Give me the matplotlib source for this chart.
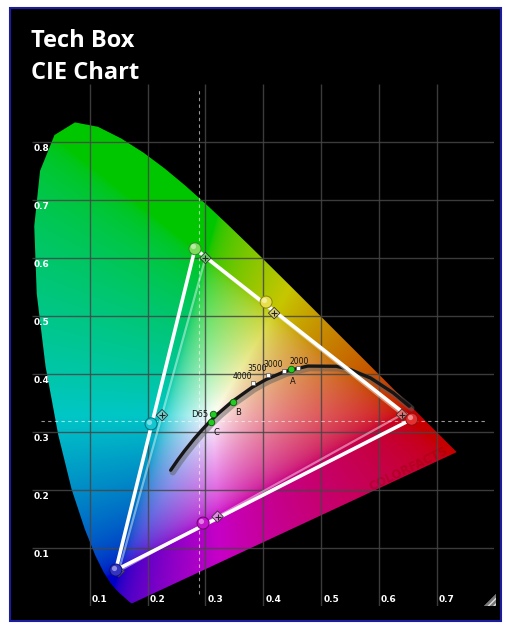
import numpy as np
import matplotlib
matplotlib.use("Agg")
import matplotlib.pyplot as plt
import matplotlib.patheffects as pe
from matplotlib.path import Path
from matplotlib.patches import PathPatch, Rectangle, Polygon

# CIE 1931 spectral locus, 380-700 nm in 5 nm steps
locus_x = [0.1741, 0.1740, 0.1738, 0.1736, 0.1733, 0.1730, 0.1726, 0.1721, 0.1714, 0.1703,
           0.1689, 0.1669, 0.1644, 0.1611, 0.1566, 0.1510, 0.1440, 0.1355, 0.1241, 0.1096,
           0.0913, 0.0687, 0.0454, 0.0235, 0.0082, 0.0039, 0.0139, 0.0389, 0.0743, 0.1142,
           0.1547, 0.1929, 0.2296, 0.2658, 0.3016, 0.3373, 0.3731, 0.4087, 0.4441, 0.4788,
           0.5125, 0.5448, 0.5752, 0.6029, 0.6270, 0.6482, 0.6658, 0.6801, 0.6915, 0.7006,
           0.7079, 0.7140, 0.7190, 0.7230, 0.7260, 0.7283, 0.7300, 0.7311, 0.7320, 0.7327,
           0.7334, 0.7340, 0.7344, 0.7346, 0.7347]
locus_y = [0.0050, 0.0050, 0.0049, 0.0049, 0.0048, 0.0048, 0.0048, 0.0048, 0.0051, 0.0058,
           0.0069, 0.0086, 0.0109, 0.0138, 0.0177, 0.0227, 0.0297, 0.0399, 0.0578, 0.0868,
           0.1327, 0.2007, 0.2950, 0.4127, 0.5384, 0.6548, 0.7502, 0.8120, 0.8338, 0.8262,
           0.8059, 0.7816, 0.7543, 0.7243, 0.6923, 0.6589, 0.6245, 0.5896, 0.5547, 0.5202,
           0.4866, 0.4544, 0.4242, 0.3965, 0.3725, 0.3514, 0.3340, 0.3197, 0.3083, 0.2993,
           0.2920, 0.2859, 0.2809, 0.2770, 0.2740, 0.2717, 0.2700, 0.2689, 0.2680, 0.2673,
           0.2666, 0.2660, 0.2656, 0.2654, 0.2653]

# black body curve, 1000 K ... infinity
planck_x = [0.6528, 0.6251, 0.5857, 0.5491, 0.5267, 0.4770, 0.4369, 0.4053, 0.3805,
            0.3451, 0.3221, 0.3064, 0.2952, 0.2807, 0.2637, 0.2525, 0.2399]
planck_y = [0.3444, 0.3674, 0.3931, 0.4082, 0.4133, 0.4137, 0.4041, 0.3907, 0.3768,
            0.3516, 0.3318, 0.3166, 0.3048, 0.2884, 0.2673, 0.2523, 0.2341]

cct_labels = ["2000", "3000", "3500", "4000"]
cct_x = [0.460, 0.436, 0.408, 0.382]
cct_y = [0.410, 0.405, 0.398, 0.384]

illum_labels = ["A", "B", "D65", "C"]
illum_x = [0.448, 0.348, 0.313, 0.310]
illum_y = [0.409, 0.352, 0.331, 0.317]

# measured gamut (circles) and reference Rec.709 targets (diamonds)
patch_names = ["R", "Y", "G", "C", "B", "M"]
meas_x = [0.657, 0.405, 0.282, 0.206, 0.145, 0.296]
meas_y = [0.322, 0.524, 0.616, 0.314, 0.062, 0.143]
ref_x = [0.640, 0.419, 0.300, 0.225, 0.150, 0.321]
ref_y = [0.330, 0.505, 0.600, 0.329, 0.060, 0.154]

white_x, white_y = 0.289, 0.319

x_ticks = [0.1, 0.2, 0.3, 0.4, 0.5, 0.6, 0.7]
y_ticks = [0.1, 0.2, 0.3, 0.4, 0.5, 0.6, 0.7, 0.8]

meas_face = ["#e23232", "#e6df4a", "#7edb5c", "#14c6d0", "#3434c4", "#c414cc"]
meas_edge = ["#8e1010", "#8a8410", "#2c8a2c", "#00707e", "#101070", "#700072"]
ref_face = ["#e87070", "#ddd070", "#6cc86c", "#6cd4d4", "#6a6ac8", "#e58ae5"]

W, H = 506, 628
fig = plt.figure(figsize=(W / 100, H / 100), dpi=100, facecolor="white")
fig.patches.append(Rectangle((10 / W, 1 - 621 / H), 491 / W, 613 / H,
                             transform=fig.transFigure, facecolor="black",
                             edgecolor="#1c1ca0", lw=1.5, zorder=-5))

ax = fig.add_axes([32 / W, 22 / H, 462.4 / W, 522 / H])
ax.set_zorder(2)
ax.set_xlim(0, 0.8)
ax.set_ylim(0, 0.9)
ax.axis("off")
ax.patch.set_alpha(0)

# colour fill of the horseshoe
xs = np.linspace(0, 0.8, 640)
ys = np.linspace(0, 0.9, 720)
gx, gy = np.meshgrid(xs, ys)
yy = np.clip(gy, 1e-4, None)
xyz = np.stack([gx / yy, np.ones_like(gx), (1 - gx - gy) / yy], axis=-1)
mat = np.array([[3.2406, -1.5372, -0.4986],
                [-0.9689, 1.8758, 0.0415],
                [0.0557, -0.2040, 1.0570]])
rgb = np.clip(xyz @ mat.T, 0, None)
rgb /= rgb.max(axis=-1, keepdims=True) + 1e-9
rgb = np.where(rgb <= 0.0031308, 12.92 * rgb, 1.055 * rgb ** (1 / 2.4) - 0.055)
# saturated colours a little darker, centre stays white
rgb = np.clip(rgb * (0.78 + 0.22 * rgb.min(axis=-1, keepdims=True)), 0, 1)
img = ax.imshow(rgb, extent=(0, 0.8, 0, 0.9), origin="lower",
                interpolation="bilinear", aspect="auto", zorder=1)
verts = list(zip(locus_x, locus_y)) + [(locus_x[0], locus_y[0])]
shoe = PathPatch(Path(verts), facecolor="none", edgecolor="none", transform=ax.transData)
ax.add_patch(shoe)
img.set_clip_path(shoe)

ax.text(0.651, 0.236, "COLORFACTS", rotation=26, color="#900000", alpha=0.35,
        fontsize=8.5, fontweight="bold", ha="center", va="center", zorder=2)

# grid
ax.vlines(x_ticks, 0, 0.9, colors="#464646", lw=1, alpha=0.85, zorder=3)
ax.hlines(y_ticks, 0, 0.8, colors="#464646", lw=1, alpha=0.85, zorder=3)
for v in x_ticks:
    ax.text(v + 0.004, 0.012, f"{v:.1f}", color="white", fontsize=6.5,
            fontweight="bold", ha="left", va="center", zorder=4)
for v in y_ticks:
    ax.text(0.003, v - 0.011, f"{v:.1f}", color="white", fontsize=6.5,
            fontweight="bold", ha="left", va="center", zorder=4)

# white point crosshair
ax.plot([white_x, white_x], [0.02, 0.89], color="white", lw=0.8, alpha=0.6,
        dashes=(3, 3), zorder=4)
ax.plot([0.015, 0.785], [white_y, white_y], color="white", lw=0.8, alpha=0.6,
        dashes=(3, 3), zorder=4)

# black body curve
ax.plot(planck_x, planck_y, color="#161616", lw=2.4, solid_capstyle="round", zorder=5,
        path_effects=[pe.SimpleLineShadow(offset=(1.5, -1.5), shadow_color="#606060",
                                          alpha=0.5, linewidth=4.5), pe.Normal()])
ax.scatter(cct_x, cct_y, marker="s", s=9, facecolor="white", edgecolor="#555",
           linewidth=0.5, zorder=6)
cct_ha = ["left", "right", "right", "right"]
cct_dx = [-0.015, -0.002, -0.002, -0.002]
for lab, x, y, ha, dx in zip(cct_labels, cct_x, cct_y, cct_ha, cct_dx):
    ax.text(x + dx, y + 0.004, lab, fontsize=5.5, color="#111", ha=ha,
            va="bottom", zorder=6)
ax.scatter(illum_x, illum_y, s=22, facecolor="#22cc22", edgecolor="#0a5a0a",
           linewidth=0.6, zorder=6)
illum_off = [(0.004, -0.022), (0.008, -0.018), (-0.008, 0.0), (0.009, -0.018)]
illum_ha = ["center", "center", "right", "center"]
for lab, x, y, (dx, dy), ha in zip(illum_labels, illum_x, illum_y, illum_off, illum_ha):
    ax.text(x + dx, y + dy, lab, fontsize=6, color="#111", ha=ha, va="center", zorder=6)

# gamut triangles
rx = [ref_x[0], ref_x[2], ref_x[4], ref_x[0]]
ry = [ref_y[0], ref_y[2], ref_y[4], ref_y[0]]
ax.plot(rx, ry, color="white", lw=1.6, alpha=0.45, zorder=7)
mx = [meas_x[0], meas_x[2], meas_x[4], meas_x[0]]
my = [meas_y[0], meas_y[2], meas_y[4], meas_y[0]]
ax.plot(mx, my, color="white", lw=2.6, solid_joinstyle="miter", zorder=8)

ax.scatter(ref_x, ref_y, marker="D", s=34, facecolor=ref_face, edgecolor="#333",
           linewidth=0.6, zorder=9)
ax.scatter(ref_x, ref_y, marker="+", s=18, color="#222", linewidth=0.8, zorder=10)
ax.scatter(meas_x, meas_y, s=75, facecolor=meas_face, edgecolor=meas_edge,
           linewidth=0.7, zorder=11)
ax.scatter(np.array(meas_x) - 0.003, np.array(meas_y) + 0.004, s=14,
           facecolor="white", alpha=0.45, linewidth=0, zorder=12)

# title
fig.text(31 / W, 1 - 47 / H, "Tech Box", color="white", fontsize=17,
         family="Open Sans", fontweight="bold", ha="left", va="baseline")
fig.text(31 / W, 1 - 79 / H, "CIE Chart", color="white", fontsize=17,
         family="Open Sans", fontweight="bold", ha="left", va="baseline")

# resize grip
fig.patches.append(Polygon([(484 / W, 1 - 606 / H), (496 / W, 1 - 594 / H),
                            (496 / W, 1 - 606 / H)], closed=True,
                           transform=fig.transFigure, facecolor="#777",
                           edgecolor="#ddd", hatch="//////", lw=0, zorder=5))

fig.savefig("out.png", dpi=100, facecolor="white")
